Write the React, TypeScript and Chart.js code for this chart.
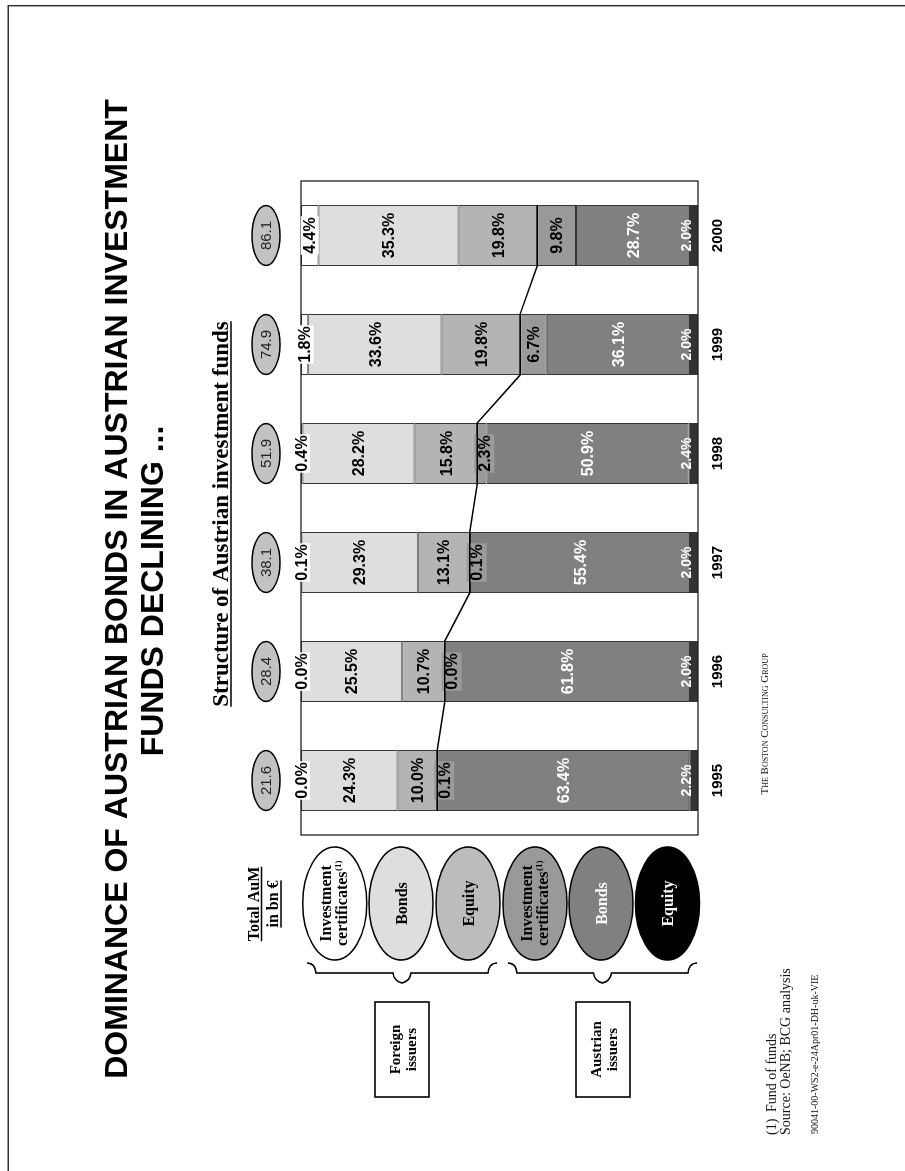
import { useEffect, useRef } from 'react';
import { Chart, registerables } from 'chart.js';

Chart.register(...registerables);

// ---------- data ----------
const years = ['1995', '1996', '1997', '1998', '1999', '2000'];
const totalAuM = [21.6, 28.4, 38.1, 51.9, 74.9, 86.1];
const foreignInvestmentCertificates = [0.0, 0.0, 0.1, 0.4, 1.8, 4.4];
const foreignBonds = [24.3, 25.5, 29.3, 28.2, 33.6, 35.3];
const foreignEquity = [10.0, 10.7, 13.1, 15.8, 19.8, 19.8];
const austrianInvestmentCertificates = [0.1, 0.0, 0.1, 2.3, 6.7, 9.8];
const austrianBonds = [63.4, 61.8, 55.4, 50.9, 36.1, 28.7];
const austrianEquity = [2.2, 2.0, 2.0, 2.4, 2.0, 2.0];

const seriesNames = [
  'Foreign investment certificates',
  'Foreign bonds',
  'Foreign equity',
  'Austrian investment certificates',
  'Austrian bonds',
  'Austrian equity',
];
const seriesValues = [
  foreignInvestmentCertificates,
  foreignBonds,
  foreignEquity,
  austrianInvestmentCertificates,
  austrianBonds,
  austrianEquity,
];

// ---------- texts ----------
const titleLines = ['DOMINANCE OF AUSTRIAN BONDS IN AUSTRIAN INVESTMENT', 'FUNDS DECLINING ...'];
const subtitle = 'Structure of Austrian investment funds';
const totalLabelLines = ['Total AuM', 'in bn €'];
const legendTexts = [
  ['Investment', 'certificates'],
  ['Bonds'],
  ['Equity'],
  ['Investment', 'certificates'],
  ['Bonds'],
  ['Equity'],
];
const legendSup = ['(1)', '', '', '(1)', '', ''];
const issuerBoxes = [
  ['Foreign', 'issuers'],
  ['Austrian', 'issuers'],
];
const footnote1 = ['(1)', 'Fund of funds'];
const footnote2 = 'Source: OeNB; BCG analysis';
const footnote3 = '90041-00-WS2-e-24Apr01-DH-uk-VIE';
const brand = 'The Boston Consulting Group';

// ---------- styles ----------
const SANS = "'Liberation Sans', Arial, Helvetica, sans-serif";
const SERIF = "'Liberation Serif', 'Times New Roman', Times, serif";
const seriesColors = ['#ffffff', '#dedede', '#b4b4b4', '#999999', '#808080', '#333333'];
const legendFills = ['#ffffff', '#dedede', '#bcbcbc', '#999999', '#808080', '#000000'];
const legendTextColors = ['#000', '#000', '#000', '#000', '#fff', '#fff'];
const labelStyles = [
  { color: '#000', size: 16, box: '#ffffff', boxH: 18, mode: 'startIfTiny' },
  { color: '#000', size: 16, box: '', boxH: 0, mode: 'center' },
  { color: '#000', size: 16, box: '', boxH: 0, mode: 'center' },
  { color: '#000', size: 16, box: '#9a9a9a', boxH: 20, mode: 'nearStart' },
  { color: '#fff', size: 16, box: '', boxH: 0, mode: 'center' },
  { color: '#fff', size: 14, box: '', boxH: 0, mode: 'nearEnd' },
];

// slide (landscape) size; the slide is rotated -90deg onto the portrait page
const SW = 1171;
const SH = 905;

function underlineText(ctx: CanvasRenderingContext2D, text: string, cx: number, baseline: number, off: number, lw: number) {
  const w = ctx.measureText(text).width;
  ctx.fillText(text, cx, baseline);
  ctx.save();
  ctx.lineWidth = lw;
  ctx.strokeStyle = ctx.fillStyle as string;
  ctx.beginPath();
  ctx.moveTo(cx - w / 2, baseline + off);
  ctx.lineTo(cx + w / 2, baseline + off);
  ctx.stroke();
  ctx.restore();
}

const slidePlugin = {
  id: 'slidePlugin',
  afterDatasetsDraw(chart: any) {
    const ctx: CanvasRenderingContext2D = chart.ctx;
    const a = chart.chartArea;
    ctx.save();
    // plot frame
    ctx.strokeStyle = '#222';
    ctx.lineWidth = 1.3;
    ctx.strokeRect(a.left, a.top, a.right - a.left, a.bottom - a.top);

    // data labels
    chart.data.datasets.forEach((ds: any, i: number) => {
      const meta = chart.getDatasetMeta(i);
      const st = labelStyles[i];
      meta.data.forEach((el: any, j: number) => {
        const p = el.getProps(['x', 'y', 'base', 'width'], true);
        const s = Math.min(p.y, p.base);
        const e = Math.max(p.y, p.base);
        const size = e - s;
        let cy = (s + e) / 2;
        if (st.mode === 'startIfTiny' && size < 5) cy = s;
        if (st.mode === 'nearStart' && size < 20) cy = s + 7;
        if (st.mode === 'nearEnd') cy = Math.min(cy, e - 12);
        const text = Number(ds.data[j]).toFixed(1) + '%';
        ctx.font = `bold ${st.size}px ${SANS}`;
        ctx.textAlign = 'center';
        ctx.textBaseline = 'alphabetic';
        const tw = ctx.measureText(text).width;
        if (st.box) {
          ctx.fillStyle = st.box;
          ctx.fillRect(p.x - tw / 2 - 1, cy - st.boxH / 2, tw + 2, st.boxH);
        }
        ctx.fillStyle = st.color;
        ctx.fillText(text, p.x, cy + st.size * 0.36);
      });
    });

    // connector line between foreign and Austrian parts
    const m2 = chart.getDatasetMeta(2);
    ctx.strokeStyle = '#000';
    ctx.lineWidth = 1.5;
    ctx.beginPath();
    m2.data.forEach((el: any, j: number) => {
      const p = el.getProps(['x', 'y', 'base', 'width'], true);
      const b = Math.max(p.y, p.base);
      const x0 = p.x - p.width / 2;
      const x1 = p.x + p.width / 2;
      if (j === 0) ctx.moveTo(x0, b);
      else ctx.lineTo(x0, b);
      ctx.lineTo(x1, b);
    });
    ctx.stroke();

    // year labels and total AuM ovals
    const m0 = chart.getDatasetMeta(0);
    m0.data.forEach((el: any, j: number) => {
      const x = el.x;
      ctx.fillStyle = '#000';
      ctx.font = `bold 15px ${SANS}`;
      ctx.textAlign = 'center';
      ctx.textBaseline = 'alphabetic';
      ctx.fillText(years[j], x, 722);

      ctx.beginPath();
      ctx.ellipse(x, 266, 30, 14, 0, 0, Math.PI * 2);
      ctx.fillStyle = '#c2c2c2';
      ctx.fill();
      ctx.strokeStyle = '#000';
      ctx.lineWidth = 1.5;
      ctx.stroke();
      ctx.fillStyle = '#222';
      ctx.font = `15px ${SANS}`;
      ctx.fillText(totalAuM[j].toFixed(1), x, 266 + 5.4);
    });
    ctx.restore();
  },
  afterDraw(chart: any) {
    const ctx: CanvasRenderingContext2D = chart.ctx;
    ctx.save();
    // page border (left and top of the portrait page)
    ctx.strokeStyle = '#333';
    ctx.lineWidth = 1.5;
    ctx.beginPath();
    ctx.moveTo(0, 8.2);
    ctx.lineTo(1165.3, 8.2);
    ctx.lineTo(1165.3, SH);
    ctx.stroke();

    // title
    ctx.fillStyle = '#000';
    ctx.textAlign = 'center';
    ctx.textBaseline = 'alphabetic';
    ctx.font = `bold 32px ${SANS}`;
    ctx.fillText(titleLines[0], 582, 127);
    ctx.fillText(titleLines[1], 580, 163);

    // subtitle
    ctx.font = `bold 23px ${SERIF}`;
    underlineText(ctx, subtitle, 657, 227.5, 3.5, 1.6);

    // Total AuM label
    ctx.font = `bold 16px ${SERIF}`;
    underlineText(ctx, totalLabelLines[0], 267, 258.5, 3, 1.5);
    underlineText(ctx, totalLabelLines[1], 267, 277.5, 3.5, 1.5);

    // legend ovals
    const ovalX = 267.5;
    const ovalYs = [334.7, 401, 468, 535, 601, 667.5];
    ovalYs.forEach((oy, i) => {
      ctx.beginPath();
      ctx.ellipse(ovalX, oy, 56.5, 32, 0, 0, Math.PI * 2);
      ctx.fillStyle = legendFills[i];
      ctx.fill();
      ctx.strokeStyle = '#000';
      ctx.lineWidth = 1.6;
      ctx.stroke();
      ctx.fillStyle = legendTextColors[i];
      const lines = legendTexts[i];
      if (lines.length === 1) {
        ctx.font = `bold 16px ${SERIF}`;
        ctx.textAlign = 'center';
        ctx.fillText(lines[0], ovalX, oy + 5.5);
      } else {
        ctx.font = `bold 16px ${SERIF}`;
        ctx.textAlign = 'center';
        ctx.fillText(lines[0], ovalX, oy - 3.5);
        const w1 = ctx.measureText(lines[1]).width;
        ctx.font = `bold 9px ${SERIF}`;
        const w2 = ctx.measureText(legendSup[i]).width;
        const sx = ovalX - (w1 + w2) / 2;
        ctx.textAlign = 'left';
        ctx.font = `bold 16px ${SERIF}`;
        ctx.fillText(lines[1], sx, oy + 12.5);
        ctx.font = `bold 9px ${SERIF}`;
        ctx.fillText(legendSup[i], sx + w1 + 0.5, oy + 6.5);
      }
    });

    // braces
    const brace = (y0: number, y1: number) => {
      const mid = (y0 + y1) / 2;
      ctx.beginPath();
      ctx.moveTo(208, y0);
      ctx.quadraticCurveTo(208, y0 + 8, 198, y0 + 9);
      ctx.lineTo(198, mid - 9);
      ctx.quadraticCurveTo(190, mid - 8, 188, mid);
      ctx.quadraticCurveTo(190, mid + 8, 198, mid + 9);
      ctx.lineTo(198, y1 - 9);
      ctx.quadraticCurveTo(208, y1 - 8, 208, y1);
      ctx.strokeStyle = '#000';
      ctx.lineWidth = 1.6;
      ctx.stroke();
    };
    brace(307, 497);
    brace(508, 697);

    // issuer boxes
    const boxCenters = [402, 603];
    boxCenters.forEach((cy, i) => {
      ctx.strokeStyle = '#000';
      ctx.lineWidth = 1.6;
      ctx.strokeRect(74, cy - 27, 95, 54);
      ctx.fillStyle = '#000';
      ctx.font = `bold 15px ${SERIF}`;
      ctx.textAlign = 'center';
      ctx.fillText(issuerBoxes[i][0], 121.5, cy - 2);
      ctx.fillText(issuerBoxes[i][1], 121.5, cy + 14);
    });

    // footnotes
    ctx.fillStyle = '#111';
    ctx.textAlign = 'left';
    ctx.font = `14px ${SERIF}`;
    ctx.fillText(footnote1[0], 36, 776);
    ctx.fillText(footnote1[1], 59, 776);
    ctx.fillText(footnote2, 36, 790);
    ctx.font = `10px ${SERIF}`;
    ctx.fillText(footnote3, 37, 818);

    // brand
    ctx.textAlign = 'center';
    ctx.font = `small-caps 11px ${SERIF}`;
    ctx.fillText(brand.toUpperCase() === brand ? brand : brand, 447, 768);
    ctx.restore();
  },
};

export default function App() {
  const ref = useRef<HTMLCanvasElement>(null);
  useEffect(() => {
    const canvas = ref.current;
    if (!canvas) return;
    const chart = new Chart(canvas, {
      type: 'bar',
      data: {
        labels: years,
        datasets: seriesValues.map((vals, i) => ({
          label: seriesNames[i],
          data: vals,
          backgroundColor: seriesColors[i],
          borderColor: '#333333',
          borderWidth: 1,
          borderSkipped: false,
          barPercentage: 0.56,
          categoryPercentage: 1.0,
        })),
      },
      options: {
        responsive: false,
        maintainAspectRatio: false,
        animation: false,
        devicePixelRatio: 1,
        layout: { padding: { left: 336, right: 181, top: 301, bottom: 207 } },
        plugins: {
          legend: { display: false },
          tooltip: { enabled: false },
          title: { display: false },
        },
        scales: {
          x: { stacked: true, display: false },
          y: { stacked: true, display: false, min: 0, max: 100, reverse: true },
        },
      },
      plugins: [slidePlugin],
    } as any);
    return () => chart.destroy();
  }, []);

  return (
    <div style={{ position: 'absolute', left: 0, top: 0, width: 905, height: 1171, overflow: 'hidden', background: '#fff' }}>
      <div
        style={{
          position: 'absolute',
          left: 0,
          top: 0,
          width: SW,
          height: SH,
          transformOrigin: '0 0',
          transform: `translate(0px, ${SW}px) rotate(-90deg)`,
        }}
      >
        <canvas ref={ref} width={SW} height={SH} style={{ display: 'block', width: SW, height: SH }} />
      </div>
    </div>
  );
}
